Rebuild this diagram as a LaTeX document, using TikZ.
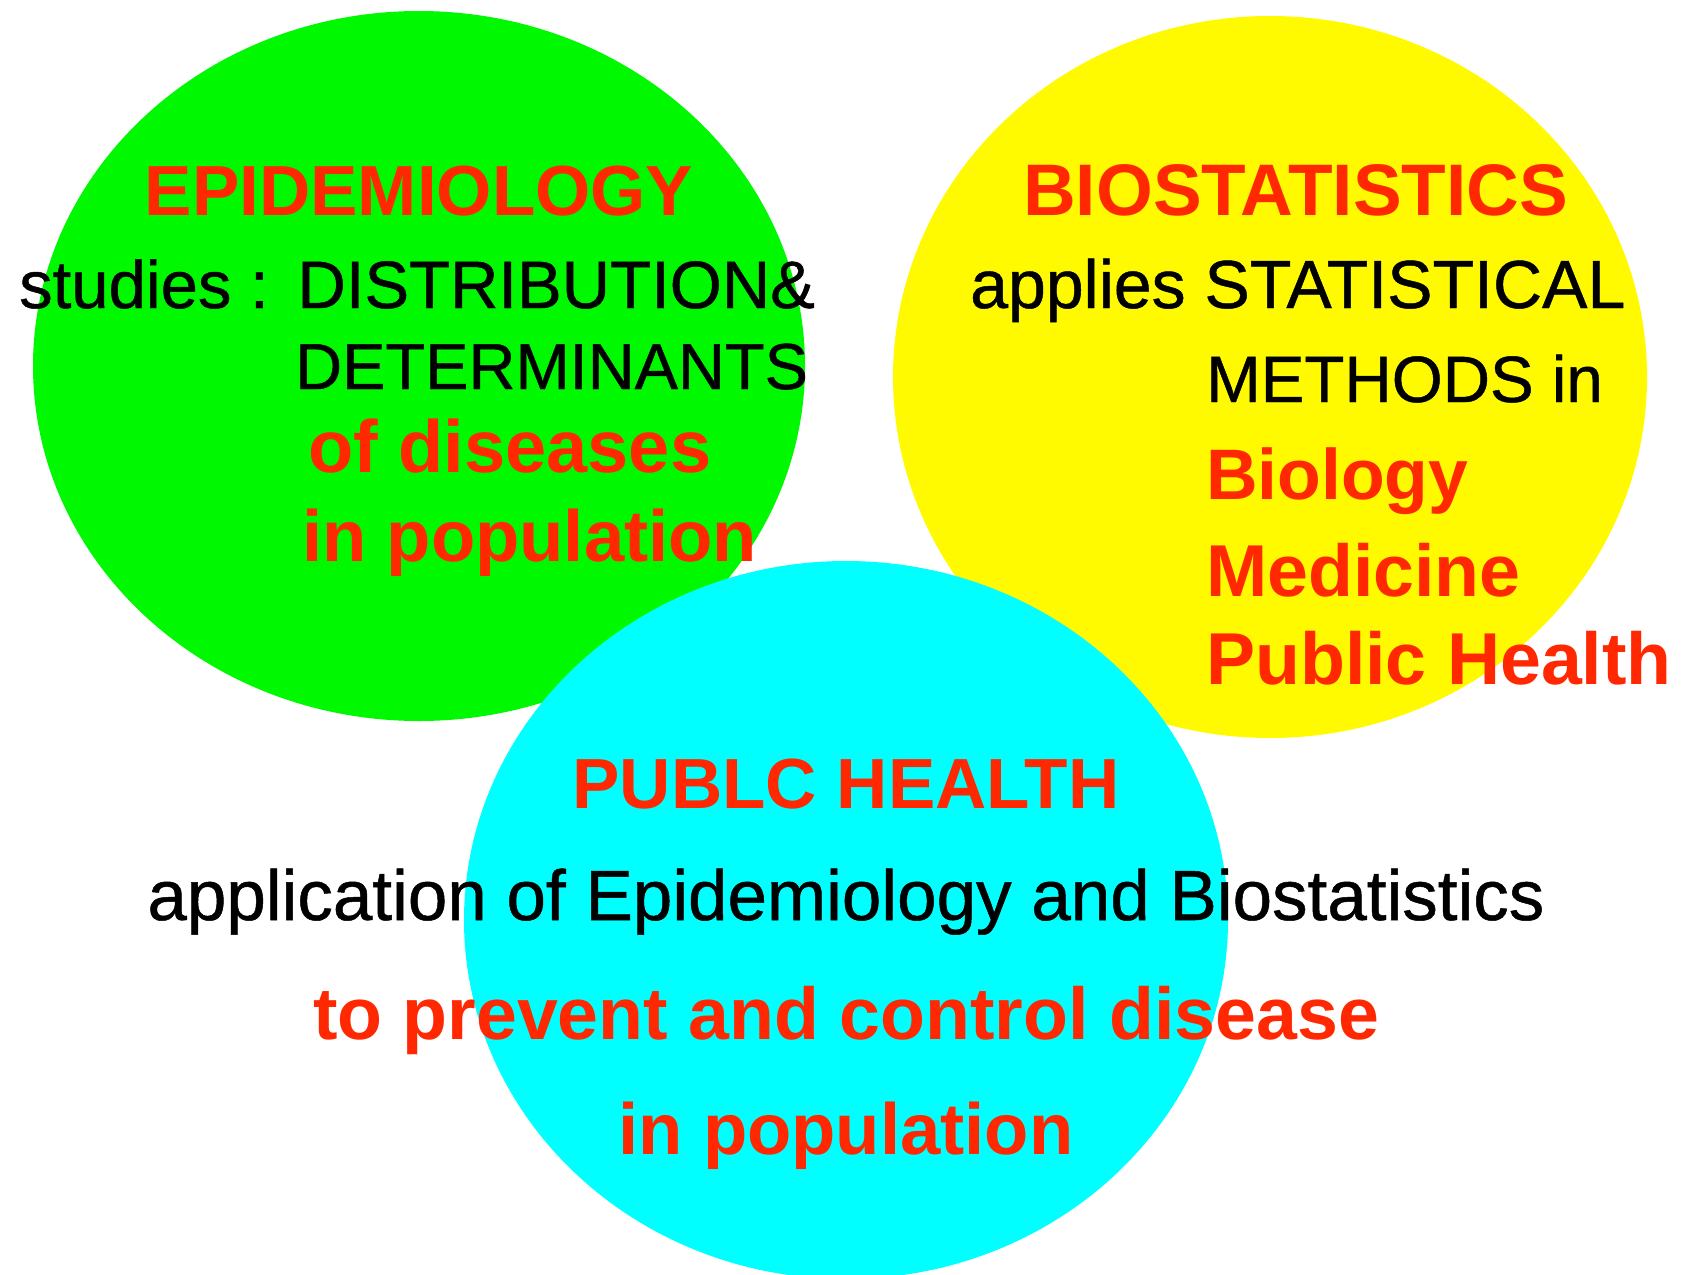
\documentclass[tikz,border=0pt]{standalone}
\usepackage{fontspec}
\setmainfont{Liberation Sans}
\newfontface\thickface{Liberation Sans}[FakeBold=0.7]
\usetikzlibrary{positioning}
\definecolor{epigreen}{RGB}{0,248,0}
\definecolor{bioyellow}{RGB}{255,250,0}
\definecolor{pubcyan}{RGB}{0,255,255}
\definecolor{txtred}{RGB}{255,40,0}

\tikzset{
  redline/.style={text=txtred, inner sep=0pt, font=\fontsize{71}{80}\selectfont\bfseries},
  blackline/.style={text=black, inner sep=0pt, font=\thickface\fontsize{67}{76}\selectfont}
}

\begin{document}
\begin{tikzpicture}[x=1pt, y=-1pt]
    \useasboundingbox (0,0) rectangle (1683,1274);
    % the three fields
    \fill[epigreen] (419,366) ellipse (386pt and 355pt);
    \fill[bioyellow] (1270,377) ellipse (377pt and 361pt);
    \fill[pubcyan] (846,920) ellipse (382pt and 359pt);

    % epidemiology
    \node[redline, anchor=base] (epi) at (419,215) {EPIDEMIOLOGY};
    \node[blackline, anchor=base west] (studies) at (19,308) {studies :\hspace{4pt} DISTRIBUTION\&};
    \node[blackline, anchor=base west, font=\thickface\fontsize{65}{74}\selectfont] (determ) at (295,389) {DETERMINANTS};
    \node[redline, anchor=base west, font=\fontsize{74}{82}\selectfont\bfseries] (ofdis) at (308,472) {of diseases};
    \node[redline, anchor=base west, font=\fontsize{72.5}{82}\selectfont\bfseries] (epipop) at (302,561) {in population};

    % biostatistics
    \node[redline, anchor=base west, font=\fontsize{73}{82}\selectfont\bfseries] (bio) at (1023,215) {BIOSTATISTICS};
    \node[blackline, anchor=base west, font=\thickface\fontsize{68}{76}\selectfont] (applies) at (970,308) {applies STATISTICAL};
    \node[blackline, anchor=base west, font=\thickface\fontsize{65.5}{74}\selectfont] (methods) at (1206,402) {METHODS in};
    \foreach \field/\ypos/\fsize/\name in {Biology/499/71.5/biol, Medicine/596/73.5/medi, Public Health/684/73.5/pubh}
    {
        \node[redline, anchor=base west, font=\fontsize{\fsize}{82}\selectfont\bfseries] (\name) at (1206,\ypos) {\field};
    }

    % public health
    \node[redline, anchor=base] (pub) at (846,808) {PUBLC HEALTH};
    \node[blackline, anchor=base, font=\thickface\fontsize{71}{80}\selectfont] (appl) at (846,920) {application of Epidemiology and Biostatistics};
    \node[redline, anchor=base, font=\fontsize{73.5}{82}\selectfont\bfseries] (prev) at (846,1039) {to prevent and control disease};
    \node[redline, anchor=base, font=\fontsize{72.5}{82}\selectfont\bfseries] (pubpop) at (846,1154) {in population};
\end{tikzpicture}
\end{document}
